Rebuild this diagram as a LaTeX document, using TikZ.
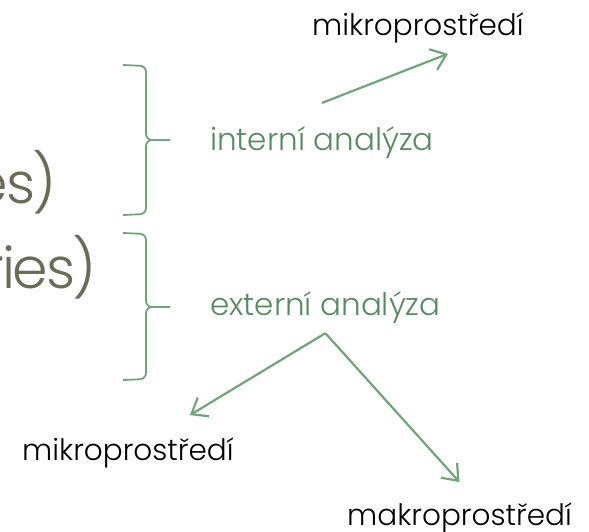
\documentclass[tikz,border=0pt]{standalone}
\usepackage{fontspec}
\setmainfont{Poppins Light}
\usetikzlibrary{arrows.meta}

\definecolor{olivegray}{RGB}{107,107,88}
\definecolor{labelgreen}{RGB}{88,138,98}
\definecolor{linegreen}{RGB}{112,165,122}

\tikzset{
  big/.style={olivegray, anchor=base east, inner sep=0pt, font=\fontsize{57}{60}\selectfont\addfontfeature{LetterSpace=-4}},
  lbl/.style={labelgreen, anchor=base west, inner sep=0pt, font=\fontsize{31}{33}\selectfont},
  env/.style={black, anchor=base west, inner sep=0pt, font=\fontsize{29.5}{32}\selectfont},
  arr/.style={linegreen, line width=2.2pt, -{Straight Barb[length=14pt,width=22pt]}},
  brc/.style={linegreen, line width=1.8pt, rounded corners=6pt},
}

\begin{document}
\begin{tikzpicture}[x=1pt,y=-1pt]
\useasboundingbox (0,0) rectangle (589,532);
% cut-off text on the left
\node [big] (sw) at (57,203) {es)};
\node [big] (ot) at (97,288) {ries)};
% braces
\draw [brc] (123,65) -- (146,66) -- (146,140) -- (170,140);
\draw [brc] (170,140) -- (146,140) -- (146,214) -- (123,215);
\draw [brc] (123,233) -- (146,234) -- (146,307) -- (170,307);
\draw [brc] (170,307) -- (146,307) -- (146,379) -- (123,380);
% labels
\node [lbl] (inta) at (210,150) {interní analýza};
\node [lbl] (exta) at (210,315) {externí analýza};
\node [env] (mikrot) at (312,36) {mikroprostředí};
\node [env] (mikrob) at (22,460) {mikroprostředí};
\node [env] (makro) at (347,525) {makroprostředí};
% arrows
\draw [arr] ([yshift=23]inta.north) -- ([xshift=30,yshift=-10]mikrot.south);
\draw [arr] ([yshift=-10]exta.south) -- ([xshift=62,yshift=22]mikrob.north);
\draw [arr] ([yshift=-10]exta.south) -- ([yshift=20]makro.north);
\end{tikzpicture}
\end{document}
